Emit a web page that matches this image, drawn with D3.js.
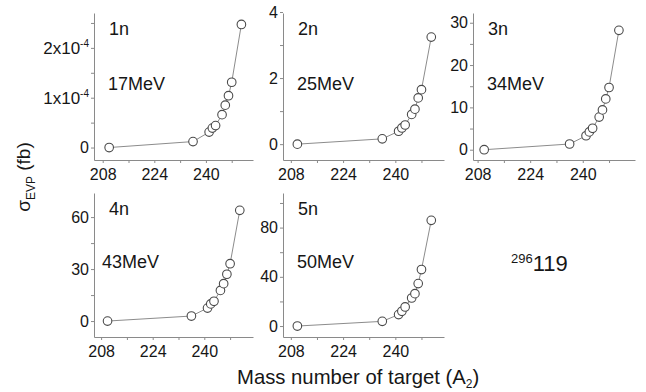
<!DOCTYPE html>
<html>
<head>
<meta charset="utf-8">
<title>sigma EVP vs target mass</title>
<script src="https://d3js.org/d3.v7.min.js"></script>
<style>
  body { margin: 0; background: #fff; }
  svg { display: block; }
  text { font-family: "Liberation Sans", Arial, sans-serif; fill: #161616; }
</style>
</head>
<body>
<svg width="646" height="392"></svg>
<script>
// target mass numbers (same in every panel)
var targetMass = [210, 236, 241, 242, 243, 245, 246, 247, 248, 251]

var channels = ["1n", "2n", "3n", "4n", "5n"]
var energies = ["17MeV", "25MeV", "34MeV", "43MeV", "50MeV"]

// sigma_EVP in fb
var sigma1n = [0, 0.12e-4, 0.31e-4, 0.39e-4, 0.44e-4, 0.66e-4, 0.85e-4, 1.04e-4, 1.31e-4, 2.47e-4]
var sigma2n = [0, 0.16, 0.39, 0.49, 0.58, 0.90, 1.06, 1.40, 1.65, 3.24]
var sigma3n = [0, 1.35, 3.3, 4.2, 5.06, 7.7, 9.4, 12.0, 14.7, 28.2]
var sigma4n = [0, 2.9, 7.5, 9.9, 11.4, 17.7, 21.6, 27.0, 33.1, 63.9]
var sigma5n = [0, 3.8, 9.3, 12.0, 15.5, 22.8, 26.3, 34.5, 45.9, 85.9]

var xMajor = [208, 224, 240]
var xMinor = [216, 232, 248]
var yMajor = [[0, 1e-4, 2e-4], [0, 2, 4], [0, 10, 20, 30], [0, 30, 60], [0, 40, 80]]
var yMinor = [[0.5e-4, 1.5e-4, 2.5e-4], [1, 3], [5, 15, 25], [15, 45], [20, 60, 100]]
var yDomains = [[-0.25e-4, 2.7e-4], [-0.48, 3.97], [-2.43, 32.3], [-9.2, 73.9], [-8.9, 108.1]]

var series = [sigma1n, sigma2n, sigma3n, sigma4n, sigma5n]

var svg = d3.select("svg")

// panel frames: left edge of y axis, top, bottom
var frames = [
  { left: 94,  top: 13,  bottom: 160, width: 159, x0: 205.3 },
  { left: 283, top: 13,  bottom: 160, width: 161, x0: 205.6 },
  { left: 473, top: 13,  bottom: 160, width: 162, x0: 206.6 },
  { left: 94,  top: 193, bottom: 337, width: 159, x0: 205.8 },
  { left: 283, top: 193, bottom: 337, width: 161, x0: 205.6 }
]

var axisColor = "#8a8a8a"

series.forEach(function (vals, i) {
  var f = frames[i]
  var g = svg.append("g").attr("transform", "translate(" + f.left + "," + f.top + ")")
  var h = f.bottom - f.top

  var x = d3.scaleLinear().domain([f.x0, f.x0 + 49.3]).range([0, f.width])
  var y = d3.scaleLinear().domain(yDomains[i]).range([h, 0])

  var xAxis = d3.axisBottom(x)
    .tickValues(xMajor.concat(xMinor))
    .tickSize(3).tickSizeOuter(0).tickPadding(2)
    .tickFormat(function (d) { return xMajor.indexOf(d) >= 0 ? d : "" })

  var yAxis = d3.axisLeft(y)
    .tickValues(yMajor[i].concat(yMinor[i]))
    .tickSize(3).tickSizeOuter(0).tickPadding(2)
    .tickFormat(function (d) { return yMajor[i].indexOf(d) >= 0 ? d : "" })

  var gx = g.append("g").attr("transform", "translate(0," + h + ")").call(xAxis)
  var gy = g.append("g").call(yAxis)

  ;[gx, gy].forEach(function (a) {
    a.select(".domain").attr("stroke", axisColor)
    a.selectAll(".tick line").attr("stroke", axisColor)
    a.selectAll(".tick text").attr("font-size", 16).style("font-family", null).attr("fill", "#161616")
  })
  gx.selectAll(".tick text").attr("dy", "0.95em")

  // 1n panel uses a x10^-4 notation
  if (i === 0) {
    gy.selectAll(".tick text").each(function (d) {
      var t = d3.select(this)
      if (yMajor[0].indexOf(d) < 0 || d === 0) return
      t.text(null).attr("font-size", 17)
      t.append("tspan").text(Math.round(d / 1e-4) + "x10")
      t.append("tspan").attr("font-size", 10).attr("dy", "-0.65em").text("-4")
    })
  }

  var line = d3.line()
    .x(function (d, j) { return x(targetMass[j]) })
    .y(function (d) { return y(d) })

  g.append("path")
    .datum(vals)
    .attr("d", line)
    .attr("fill", "none")
    .attr("stroke", "#8c8c8c")
    .attr("stroke-width", 1)

  g.selectAll("circle")
    .data(vals)
    .enter().append("circle")
    .attr("cx", function (d, j) { return x(targetMass[j]) })
    .attr("cy", function (d) { return y(d) })
    .attr("r", 4.3)
    .attr("fill", "#fff")
    .attr("stroke", "#4a4a4a")
    .attr("stroke-width", 1.1)

  g.append("text")
    .attr("x", 15).attr("y", 22)
    .attr("font-size", 18)
    .text(channels[i])

  g.append("text")
    .attr("x", i === 3 ? 8 : 14).attr("y", i < 3 ? 77 : 75)
    .attr("font-size", 18)
    .text(energies[i])
})

// y axis title
var yTitle = svg.append("text")
  .attr("transform", "translate(30,177) rotate(-90)")
  .attr("text-anchor", "middle")
  .attr("font-size", 19)
yTitle.append("tspan").text("σ")
yTitle.append("tspan").attr("font-size", 12).attr("dy", "0.45em").text("EVP")
yTitle.append("tspan").attr("dy", "-0.3em").text(" (fb)")

// x axis title
var xTitle = svg.append("text")
  .attr("x", 237).attr("y", 384)
  .attr("font-size", 20.3)
xTitle.append("tspan").text("Mass number of target (A")
xTitle.append("tspan").attr("font-size", 12).attr("dy", "0.35em").text("2")
xTitle.append("tspan").attr("dy", "-0.2em").text(")")

// compound nucleus label
var cn = svg.append("text").attr("x", 511).attr("y", 270).attr("font-size", 22)
cn.append("tspan").attr("font-size", 13).attr("dy", "-0.55em").text("296")
cn.append("tspan").attr("dy", "0.35em").text("119")
</script>
</body>
</html>
